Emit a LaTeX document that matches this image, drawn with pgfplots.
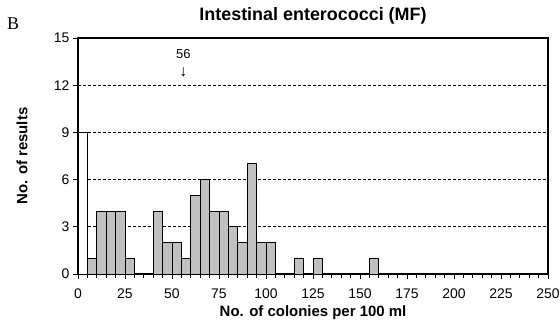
\documentclass[border=0pt]{standalone}
\usepackage{pgfplots}
\usepackage{pgfplotstable}
\pgfplotsset{compat=1.18}
\usepackage{fontspec}
\setmainfont{Liberation Sans}
\newfontfamily\seriffont{Liberation Serif}

\pgfplotstableread{
x y
7.5 1
12.5 4
17.5 4
22.5 4
27.5 1
42.5 4
47.5 2
52.5 2
57.5 1
62.5 5
67.5 6
72.5 4
77.5 4
82.5 3
87.5 2
92.5 7
97.5 2
102.5 2
117.5 1
127.5 1
157.5 1
}\bars

\pgfplotstableread{
x y
2.5 9
}\white

\begin{document}
\begin{tikzpicture}
\useasboundingbox (-78bp,-46bp) rectangle (482bp,274bp);
\begin{axis}[
  scale only axis, width=470bp, height=236bp,
  clip=false,
  xmin=0, xmax=250, ymin=0, ymax=15,
  xtick={0,25,...,250}, minor xtick={5,10,...,245},
  ytick={0,3,...,15},
  tick pos=left, tick align=outside,
  major tick length=5bp, minor tick length=3.5bp,
  ymajorgrids,
  grid style={black, line width=0.9bp, dash pattern=on 3bp off 2bp},
  axis line style={line width=2bp},
  every tick/.style={black, line width=0.9bp},
  ticklabel style={font=\fontsize{14}{16}\selectfont},
  /pgf/number format/assume math mode=true,
  xticklabel style={yshift=-6bp},
  xlabel={No. of colonies per 100 ml},
  ylabel={No. of results},
  every axis x label/.style={at={(axis description cs:0.5,-0.165)}, anchor=center, font=\bfseries\fontsize{15}{17}\selectfont},
  every axis y label/.style={at={(axis description cs:-0.119,0.5)}, rotate=90, anchor=center, font=\bfseries\fontsize{15}{17}\selectfont},
  title={Intestinal enterococci (MF)},
  title style={at={(axis description cs:0.5,1.068)}, anchor=center, font=\bfseries\fontsize{18}{20}\selectfont},
]
\addplot[ybar, bar width=5, bar shift=0pt, fill=white, draw=black, line width=0.9bp] table[x=x,y=y] {\white};
\addplot[ybar, bar width=5, bar shift=0pt, fill={rgb,255:red,192;green,192;blue,192}, draw=black, line width=0.9bp] table[x=x,y=y] {\bars};
\node[font=\fontsize{13}{15}\selectfont, inner sep=0pt] at (axis cs:56,13.95) {56};
\node[font=\fontsize{16}{18}\selectfont, inner sep=0pt] at (axis cs:56,12.8) {↓};
\node[font=\seriffont\fontsize{18}{20}\selectfont] at (axis description cs:-0.138,1.059) {B};
\end{axis}
\end{tikzpicture}
\end{document}
